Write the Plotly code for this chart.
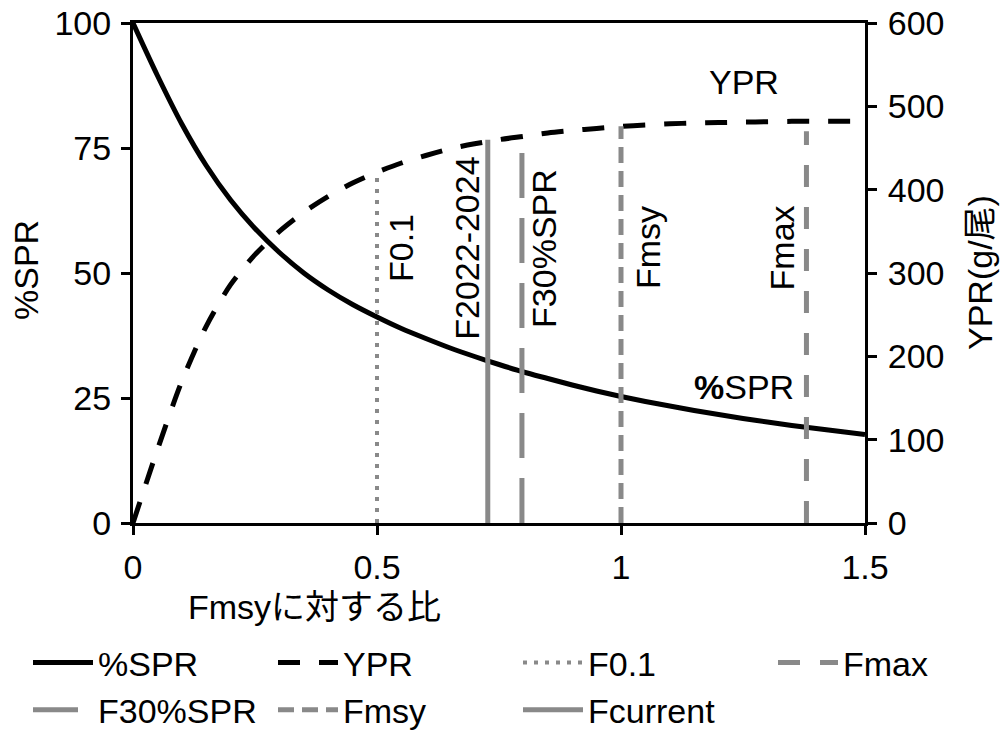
import plotly.graph_objects as go

# ---------------- data ----------------
F_ratio = [0, 0.05, 0.1, 0.15, 0.2, 0.25, 0.3, 0.35, 0.4, 0.45, 0.5, 0.55, 0.6, 0.65,
           0.7, 0.75, 0.8, 0.85, 0.9, 0.95, 1.0, 1.05, 1.1, 1.15, 1.2, 1.25, 1.3,
           1.35, 1.4, 1.45, 1.5]
spr_pct = [100, 89.5, 79.8, 71.5, 64.6, 58.9, 54.1, 50.0, 46.6, 43.7, 41.2, 38.9,
           36.9, 35.0, 33.3, 31.7, 30.2, 28.9, 27.6, 26.4, 25.3, 24.3, 23.4, 22.5,
           21.7, 20.9, 20.2, 19.5, 18.9, 18.3, 17.7]
ypr_g = [0, 88, 170, 236, 286, 322, 350, 373, 392, 408, 421, 432, 441, 449, 455,
         460, 464, 468, 471, 473.5, 476, 477.5, 479, 480, 480.5, 481, 481.5, 482,
         482, 482, 482]

ref_names = ["F0.1", "Fmax", "F30%SPR", "Fmsy", "Fcurrent"]
ref_F = [0.5, 1.38, 0.797, 1.0, 0.727]
ref_top = [421, 470, 466, 476, 460]
ref_labels = ["F0.1", "Fmax", "F30%SPR", "Fmsy", "F2022-2024"]

left_ticks = [0, 25, 50, 75, 100]
right_ticks = [0, 100, 200, 300, 400, 500, 600]
x_ticks = [0, 0.5, 1, 1.5]
x_ticktext = ["0", "0.5", "1", "1.5"]

# ---------------- styles ----------------
FONT = "Liberation Sans, Arial, Noto Sans CJK JP, sans-serif"
FS = 34
GRAY = "#898989"
ref_dash = {"F0.1": "4px,7px", "Fmax": "22px,20px", "F30%SPR": "45px,20px",
            "Fmsy": "16px,8px", "Fcurrent": "solid"}
ref_legend = {"F0.1": "legend3", "Fmax": "legend4", "F30%SPR": "legend",
              "Fmsy": "legend2", "Fcurrent": "legend3"}
label_shift = {"F0.1": 24, "Fmax": -24, "F30%SPR": 22, "Fmsy": 27, "Fcurrent": -21}

fig = go.Figure()

fig.add_trace(go.Scatter(x=F_ratio, y=spr_pct, name="%SPR", mode="lines",
                         line=dict(color="black", width=5, shape="spline", smoothing=0.8),
                         yaxis="y", legend="legend"))
fig.add_trace(go.Scatter(x=F_ratio, y=ypr_g, name="YPR", mode="lines",
                         line=dict(color="black", width=5, dash="22px,19px",
                                   shape="spline", smoothing=0.8),
                         yaxis="y2", legend="legend2"))

for nm, f, top in zip(ref_names, ref_F, ref_top):
    w = 4 if nm == "F0.1" else 5
    fig.add_trace(go.Scatter(x=[f, f], y=[0, top], name=nm, mode="lines",
                             line=dict(color=GRAY, width=w, dash=ref_dash[nm]),
                             yaxis="y2", legend=ref_legend[nm]))

annotations = []
for nm, f, lab in zip(ref_names, ref_F, ref_labels):
    annotations.append(dict(x=f, y=55, xref="x", yref="y", text=lab, textangle=-90,
                            showarrow=False, xshift=label_shift[nm],
                            xanchor="center", yanchor="middle",
                            font=dict(size=FS, color="black", family=FONT)))
annotations += [
    dict(x=744, y=82, xref="paper", yref="paper", text="YPR", showarrow=False,
         font=dict(size=FS, color="black", family=FONT)),
    dict(x=744, y=387, xref="paper", yref="paper", text="<b>%</b>SPR", showarrow=False,
         font=dict(size=FS, color="black", family=FONT)),
    dict(x=26, y=270, xref="paper", yref="paper", text="%SPR", textangle=-90,
         showarrow=False, font=dict(size=FS, color="black", family=FONT)),
    dict(x=980, y=272, xref="paper", yref="paper", text="YPR(g/尾)", textangle=-90,
         showarrow=False, font=dict(size=FS, color="black", family=FONT)),
    dict(x=314, y=607, xref="paper", yref="paper", text="Fmsyに対する比",
         showarrow=False, font=dict(size=FS, color="black", family=FONT)),
]

# convert pixel placements for the paper-positioned texts
L, R, T, B = 133, 135, 23, 208
W, H = 1000, 731
pw, ph = W - L - R, H - T - B
for a in annotations:
    if a["xref"] == "paper":
        a["x"] = (a["x"] - L) / pw
        a["y"] = (H - B - a["y"]) / ph
        a["xanchor"] = "center"
        a["yanchor"] = "middle"

def legend_at(px, py):
    return dict(x=(px - L) / pw, y=(H - B - py) / ph, xanchor="left", yanchor="top",
                orientation="v", bgcolor="rgba(0,0,0,0)", itemwidth=60,
                font=dict(size=FS, color="black", family=FONT), tracegroupgap=0)

fig.update_layout(
    width=W, height=H,
    margin=dict(l=L, r=R, t=T, b=B, pad=0, autoexpand=False),
    paper_bgcolor="white", plot_bgcolor="white",
    font=dict(family=FONT, size=FS, color="black"),
    showlegend=True,
    legend=legend_at(28, 634),
    legend2=legend_at(273, 634),
    legend3=legend_at(518, 634),
    legend4=legend_at(773, 634),
    annotations=annotations,
    xaxis=dict(range=[0, 1.5], tickvals=x_ticks, ticktext=x_ticktext,
               showgrid=False, zeroline=False, showline=True, linecolor="black",
               linewidth=3, mirror=True, ticks="outside", ticklen=9, tickwidth=3,
               tickcolor="black", ticklabelstandoff=3,
               tickfont=dict(size=FS, family=FONT, color="black")),
    yaxis=dict(range=[0, 100], tickvals=left_ticks, showgrid=False, zeroline=False,
               showline=True, linecolor="black", linewidth=3, ticks="outside",
               ticklen=9, tickwidth=3, tickcolor="black", ticklabelstandoff=3,
               tickfont=dict(size=FS, family=FONT, color="black")),
    yaxis2=dict(range=[0, 600], tickvals=right_ticks, overlaying="y", side="right",
                showgrid=False, zeroline=False, showline=True, linecolor="black",
                linewidth=3, ticks="outside", ticklen=9, tickwidth=3, tickcolor="black",
                ticklabelstandoff=4,
                tickfont=dict(size=FS, family=FONT, color="black")),
)

fig.write_html("out.html")
